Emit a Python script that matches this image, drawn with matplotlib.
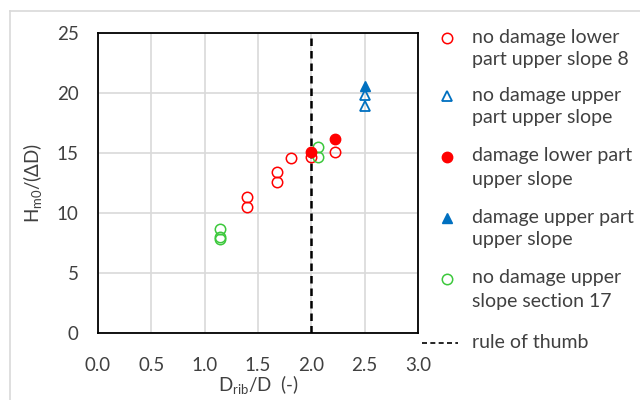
import matplotlib
matplotlib.use("Agg")
import matplotlib.pyplot as plt
from matplotlib.lines import Line2D

plt.rcParams['font.family'] = ['Lato', 'DejaVu Sans']

# values
x_nd_lower = [1.40, 1.40, 1.68, 1.68, 1.81, 2.00, 2.22]
y_nd_lower = [11.3, 10.5, 13.4, 12.6, 14.6, 14.7, 15.1]

x_nd_upper = [2.50, 2.50]
y_nd_upper = [19.8, 18.9]

x_d_lower = [2.00, 2.22]
y_d_lower = [15.1, 16.2]

x_d_upper = [2.50]
y_d_upper = [20.6]

x_nd_s17 = [1.14, 1.14, 1.14, 2.06, 2.06]
y_nd_s17 = [8.7, 8.0, 7.8, 15.5, 14.7]

rule_x = 2.0

labels = ["no damage lower\npart upper slope 8",
          "no damage upper\npart upper slope",
          "damage lower part\nupper slope",
          "damage upper part\nupper slope",
          "no damage upper\nslope section 17",
          "rule of thumb"]

red = "#FF0000"
blue = "#0070C0"
green = "#3CC83C"
txt = "#404040"
W, H = 640, 400

fig = plt.figure(figsize=(6.4, 4.0), dpi=100)
ax = fig.add_axes([98/W, 1-333/H, 320/W, 300/H])

ms = 7.5
styles = [dict(marker="o", mfc="none", mec=red, mew=1.1, ms=ms),
          dict(marker="^", mfc="none", mec=blue, mew=1.3, ms=ms),
          dict(marker="o", color=red, ms=ms),
          dict(marker="^", color=blue, ms=ms),
          dict(marker="o", mfc="none", mec=green, mew=1.1, ms=ms)]
series = [(x_nd_lower, y_nd_lower), (x_nd_upper, y_nd_upper),
          (x_d_lower, y_d_lower), (x_d_upper, y_d_upper),
          (x_nd_s17, y_nd_s17)]
for (xs, ys), st, z in zip(series, styles, [3, 3, 4, 4, 3]):
    ax.plot(xs, ys, ls="none", zorder=z, **st)
dash = (0, (3, 2))
ax.axvline(rule_x, color="black", ls=dash, lw=1.8, zorder=2)

ax.set_xlim(0, 3)
ax.set_ylim(0, 25)
ax.set_xticks([0, 0.5, 1.0, 1.5, 2.0, 2.5, 3.0])
ax.set_xticklabels(["0.0", "0.5", "1.0", "1.5", "2.0", "2.5", "3.0"])
ax.set_yticks([0, 5, 10, 15, 20, 25])
ax.grid(True, color="#D9D9D9", lw=1.2)
ax.set_axisbelow(True)
for s in ax.spines.values():
    s.set_linewidth(1.3)
ax.tick_params(length=0, labelsize=13.5, colors=txt)
ax.tick_params(axis="x", pad=17)
ax.tick_params(axis="y", pad=14)

ax.set_xlabel("D$_{\\mathregular{rib}}$/D  (-)", fontsize=13.5, color=txt, labelpad=0)
ax.set_ylabel("H$_{\\mathregular{m0}}$/(ΔD)", fontsize=13.5, color=txt, labelpad=8)

# legend, Excel style: marker next to the first line of each entry
row_y = [38, 96, 157, 218, 279, 343]
for i, (lab, yy) in enumerate(zip(labels, row_y)):
    fy = 1 - yy/H
    if i < len(styles):
        fig.add_artist(Line2D([447/W], [fy], ls="none", **styles[i]))
    else:
        fig.add_artist(Line2D([422/W, 458/W], [fy, fy], color="black", ls=dash, lw=1.2))
    for j, line in enumerate(lab.split("\n")):
        fig.text(472/W, 1 - (yy - 1 + 23*j)/H, line, fontsize=14, color=txt,
                 ha="left", va="center")

# light chart-area border (top and left)
fig.add_artist(Line2D([10/W, 1], [1-11/H, 1-11/H], color="#D9D9D9", lw=1.2))
fig.add_artist(Line2D([10/W, 10/W], [0, 1-11/H], color="#D9D9D9", lw=1.2))

fig.savefig("out.png", dpi=100)
